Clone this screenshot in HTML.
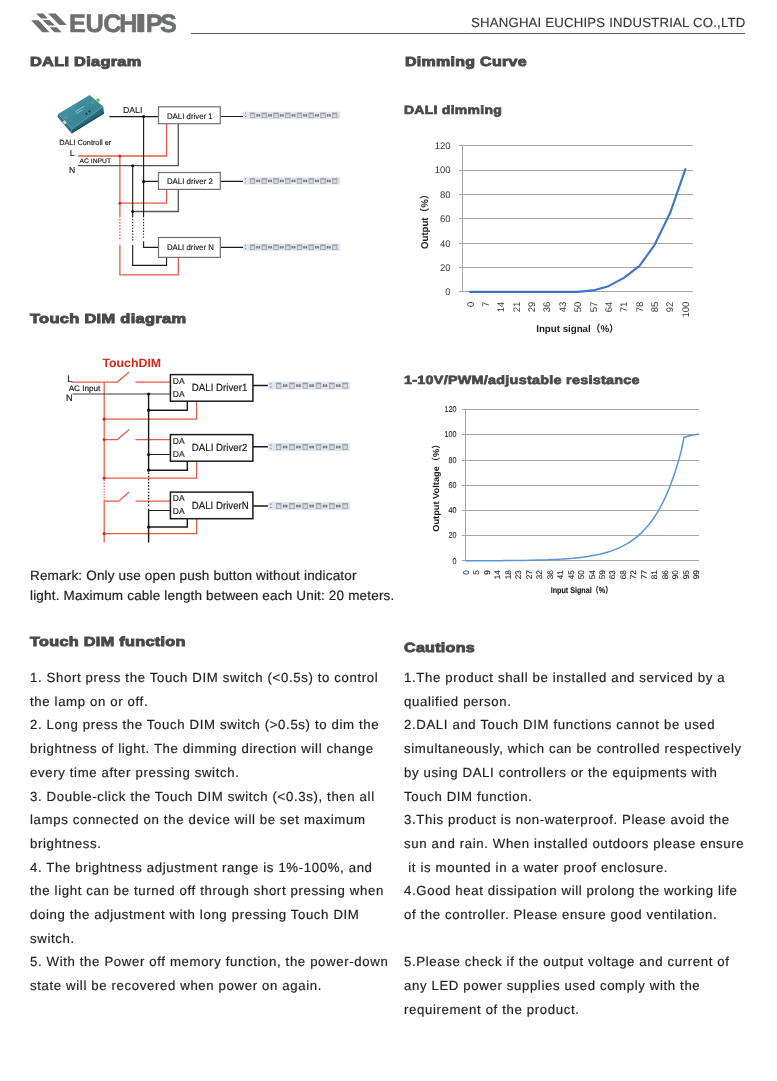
<!DOCTYPE html>
<html lang="en">
<head>
<meta charset="utf-8">
<title>EUCHIPS - DALI Diagram / Dimming Curve</title>
<style>
html,body{margin:0;padding:0;background:#fff;}
body{width:777px;height:1081px;position:relative;overflow:hidden;font-family:"Liberation Sans","Noto Sans CJK SC",sans-serif;color:#1f1f1f;text-rendering:geometricPrecision;}
.h{position:absolute;white-space:nowrap;font-weight:bold;font-size:13.2px;color:#4a4a4c;letter-spacing:0.25px;-webkit-text-stroke:0.9px #4a4a4c;line-height:18px;transform-origin:0 50%;will-change:transform;}
.h2{font-size:12px;-webkit-text-stroke:0.72px #4a4a4c;}
.p{position:absolute;white-space:nowrap;font-size:13.2px;line-height:23.7px;color:#222;letter-spacing:0.635px;will-change:transform;-webkit-text-stroke:0.18px #222;}
.co{position:absolute;right:32px;top:15.2px;font-size:13.2px;line-height:16px;color:#383838;letter-spacing:0.2px;-webkit-text-stroke:0.15px #383838;white-space:nowrap;will-change:transform;}
.rule{position:absolute;left:191px;top:33px;width:554px;height:1px;background:#555;}
svg{position:absolute;left:0;top:0;overflow:visible;will-change:transform;}
svg text{font-family:"Liberation Sans","Noto Sans CJK SC",sans-serif;text-rendering:geometricPrecision;}
</style>
</head>
<body>

<!-- ===== header ===== -->
<svg width="777" height="40" viewBox="0 0 777 40">
  <g fill="#6d6e71">
    <polygon points="48.1,13.4 55.7,13.4 66.8,25 59.4,25"/>
    <polygon points="36.2,13.4 43.3,13.4 47.8,18.5 41,18.5"/>
    <polygon points="42.4,19.9 49.2,19.9 55.2,25.6 48.1,25.6"/>
    <polygon points="49.8,27.3 56.6,27.3 61.7,32.3 54.3,32.3"/>
    <polygon points="31.1,20.3 38.5,20.3 49.5,32.3 42.4,32.3"/>
    <rect x="137.3" y="13.9" width="7" height="18.1"/>
    <text x="68.9 85.6 103.2 119.2 137.3 145.7 160" y="32" font-size="25.3" font-weight="bold" stroke="#6d6e71" stroke-width="0.55">EUCHIPS</text>
  </g>
</svg>
<div class="rule"></div>
<div class="co">SHANGHAI EUCHIPS INDUSTRIAL CO.,LTD</div>

<!-- ===== headings ===== -->
<div class="h" style="left:30.2px;top:53.1px;transform:scaleX(1.2362);">DALI Diagram</div>
<div class="h" style="left:405.0px;top:53.3px;transform:scaleX(1.2100);">Dimming Curve</div>
<div class="h h2" style="left:404.4px;top:101.1px;transform:scaleX(1.1625);">DALI dimming</div>
<div class="h" style="left:30.4px;top:310.4px;transform:scaleX(1.2447);">Touch DIM diagram</div>
<div class="h h2" style="left:403.8px;top:370.6px;transform:scaleX(1.1920);">1-10V/PWM/adjustable resistance</div>
<div class="h" style="left:30.4px;top:632.8px;transform:scaleX(1.2303);">Touch DIM function</div>
<div class="h" style="left:404.4px;top:639.2px;transform:scaleX(1.2163);">Cautions</div>

<!-- ===== DIAGRAM1 ===== -->
<svg width="777" height="300" viewBox="0 0 777 300">
  <defs>
    <g id="led">
      <rect x="0" y="0" width="97" height="7.2" fill="#dce5f3"/>
      <rect x="1.9" y="1.1" width="1" height="1" fill="#777"/>
      <rect x="1.9" y="4.4" width="1" height="1" fill="#777"/>
      <g id="ledu">
        <rect x="7" y="1.3" width="4.6" height="4.8" fill="#c8c8c8" stroke="#999" stroke-width="0.6"/>
        <rect x="7" y="1.2" width="4.6" height="1" fill="#9b9b9b"/>
        <rect x="8.1" y="2.9" width="2.4" height="2.4" fill="#dcdcdc"/>
        <rect x="13.2" y="2.5" width="3.7" height="2.3" fill="#a8a8a8"/>
        <rect x="13.2" y="2.5" width="1.1" height="2.3" fill="#707070"/>
        <rect x="15.8" y="2.5" width="1.1" height="2.3" fill="#707070"/>
      </g>
      <use href="#ledu" x="11.75"/><use href="#ledu" x="23.5"/><use href="#ledu" x="35.25"/>
      <use href="#ledu" x="47"/><use href="#ledu" x="58.75"/><use href="#ledu" x="70.5"/>
      <rect x="89.25" y="1.3" width="4.6" height="4.8" fill="#c8c8c8" stroke="#999" stroke-width="0.6"/>
      <rect x="89.25" y="1.2" width="4.6" height="1" fill="#9b9b9b"/>
      <rect x="90.35" y="2.9" width="2.4" height="2.4" fill="#dcdcdc"/>
    </g>
  </defs>
  <!-- controller -->
  <g>
    <linearGradient id="ctop" x1="0" y1="0" x2="1" y2="1">
      <stop offset="0" stop-color="#4a97a8"/><stop offset="0.55" stop-color="#3b8799"/><stop offset="1" stop-color="#347d8f"/>
    </linearGradient>
    <polygon points="57.4,116.8 58.1,113.9 72,128.8 71.6,133.4" fill="#2d7282"/>
    <polygon points="72,128.8 103.2,106.4 104.1,113.6 71.6,133.4" fill="#286a7b"/>
    <polygon points="71.7,131.6 104,111.6 104.1,113.6 71.6,133.4" fill="#1d5464"/>
    <polygon points="58.1,113.9 89.6,94.9 103.2,106.4 72,128.8" fill="url(#ctop)"/>
    <path d="M58.1,113.9 L72,128.8 L103.2,106.4" fill="none" stroke="#5aa3b3" stroke-width="0.5"/>
    <polygon points="96,99.6 98.3,98.2 100.4,100.1 98.2,101.9" fill="#62b83c"/>
    <polygon points="62.4,121.6 64.6,120.2 66.9,122.8 64.8,124.6" fill="#d9d4b2"/>
    <path d="M75,111.9 L84.2,106.3 M76.2,113.6 L82.6,109.8" stroke="#a8d6e0" stroke-width="0.7" fill="none"/>
    <path d="M91.2,102.3 l1.6,1.5 m-0.2,-2.6 l1.7,1.6 M64.5,117 l1.5,1.6 m0.3,-2.6 l1.5,1.6" stroke="#8cc3cf" stroke-width="0.6" fill="none"/>
    <circle cx="86.4" cy="113.7" r="0.9" fill="#1c2b3a"/><circle cx="89.4" cy="111.5" r="0.9" fill="#1c2b3a"/>
  </g>
  <g fill="none" stroke-width="1.1">
    <!-- red -->
    <path d="M78,156 H166.6 V123.7 M119.9,156 V217.5 M119.9,244.9 V274.9 H178.3 V257.4 M119.9,203.2 H166.6 V189.5" stroke="#e45c49" stroke-width="1.3"/>
    <path d="M119.9,219 V241" stroke="#e45c49" stroke-width="1.3" stroke-dasharray="1.6,1.5"/>
    <!-- gray N returns -->
    <path d="M78,165.6 H178.3 V123.7 M132.7,211.5 H178.3 V189.5" stroke="#555" stroke-width="1.3"/>
    <!-- black -->
    <path d="M109.4,116.6 H157.9 M143.6,116.6 V217.5 M143.6,241.2 V247.4 H158.1 M143.6,181.4 H157.9 M132.7,165.7 V217.5 M132.7,244.9 V265.4 H166.6 V257.4 M220.3,116.5 H243 M220.3,181.4 H243 M220.3,247.4 H243" stroke="#1a1a1a"/>
    <path d="M132.7,219 V241 M143.6,219 V238" stroke="#1a1a1a" stroke-dasharray="1.3,1.6"/>
    <!-- boxes -->
    <rect x="158.5" y="106.8" width="61.8" height="16.9" fill="#fff" stroke="#707070" stroke-width="1.2"/>
    <rect x="158.5" y="172.5" width="61.8" height="16.9" fill="#fff" stroke="#707070" stroke-width="1.2"/>
    <rect x="158.5" y="237.5" width="61.8" height="19.9" fill="#fff" stroke="#707070" stroke-width="1.2"/>
  </g>
  <circle cx="143.6" cy="116.6" r="1.5" fill="#111"/>
  <circle cx="143.6" cy="181.4" r="1.5" fill="#111"/>
  <circle cx="132.7" cy="165.7" r="1.5" fill="#111"/>
  <circle cx="132.7" cy="211.5" r="1.5" fill="#111"/>
  <circle cx="119.9" cy="156" r="1.5" fill="#d9261c"/>
  <circle cx="119.9" cy="203.2" r="1.5" fill="#d9261c"/>
  <use href="#led" x="243.2" y="111.7"/>
  <use href="#led" x="243.2" y="177.3"/>
  <use href="#led" x="243.2" y="243.6"/>
  <g fill="#1c1c1c" stroke="#1c1c1c" stroke-width="0.15">
    <text x="122.9" y="113.4" font-size="8.7" textLength="19.5" lengthAdjust="spacingAndGlyphs">DALI</text>
    <text x="166.9" y="119.4" font-size="8.1" textLength="45.8" lengthAdjust="spacingAndGlyphs">DALI driver 1</text>
    <text x="166.9" y="183.9" font-size="8.1" textLength="46" lengthAdjust="spacingAndGlyphs">DALI driver 2</text>
    <text x="166.9" y="250" font-size="8.1" textLength="47" lengthAdjust="spacingAndGlyphs">DALI driver N</text>
    <text x="59.2" y="144.5" font-size="7.5" textLength="52" lengthAdjust="spacingAndGlyphs">DALI Controll er</text>
    <text x="69.8" y="155.7" font-size="8.8">L</text>
    <text x="79.5" y="163.3" font-size="6.6" textLength="31.6" lengthAdjust="spacingAndGlyphs">AC INPUT</text>
    <text x="68.9" y="172.5" font-size="8.6">N</text>
  </g>
</svg>

<!-- ===== DIAGRAM2 ===== -->
<svg width="777" height="560" viewBox="0 0 777 560">
  <defs>
    <g id="led2">
      <rect x="0" y="0" width="82.2" height="8" fill="#dce5f3"/>
      <rect x="2.4" y="1.6" width="1.1" height="1.1" fill="#666"/>
      <rect x="2.4" y="4.8" width="1.1" height="1.1" fill="#666"/>
      <g id="ledu2">
        <rect x="8.4" y="1.4" width="4.7" height="5.3" fill="#c8c8c8" stroke="#999" stroke-width="0.6"/>
        <rect x="8.4" y="1.3" width="4.7" height="1.1" fill="#9b9b9b"/>
        <rect x="9.55" y="3.1" width="2.4" height="2.7" fill="#dcdcdc"/>
        <rect x="15.1" y="2.8" width="4.2" height="2.5" fill="#a8a8a8"/>
        <rect x="15.1" y="2.8" width="1.2" height="2.5" fill="#6c6c6c"/>
        <rect x="18.1" y="2.8" width="1.2" height="2.5" fill="#6c6c6c"/>
      </g>
      <use href="#ledu2" x="13.3"/><use href="#ledu2" x="26.6"/><use href="#ledu2" x="39.9"/><use href="#ledu2" x="53.2"/>
      <rect x="74.9" y="1.4" width="4.7" height="5.3" fill="#c8c8c8" stroke="#999" stroke-width="0.6"/>
      <rect x="74.9" y="1.3" width="4.7" height="1.1" fill="#9b9b9b"/>
      <rect x="76.05" y="3.1" width="2.4" height="2.7" fill="#dcdcdc"/>
    </g>
  </defs>
  <g fill="none" stroke-width="1.15">
    <!-- red -->
    <g stroke="#e45c49" stroke-width="1.25">
      <path d="M71.5,382 H117.4 L129.2,372 M135.4,382 H170.4"/>
      <path d="M104.2,439.5 H117.4 L129.2,429.5 M135.4,439.5 H170.4"/>
      <path d="M104.2,501.2 H118.6 L129.2,492 M135.4,501.2 H170.4"/>
      <path d="M104.2,382 V478.5 M104.2,499.5 V542.4"/>
      <path d="M104.2,480 V499" stroke-dasharray="1.3,1.5"/>
      <path d="M104.2,419.2 H196.6 V401.2 M104.2,478.2 H196.6 V461.2 M104.2,533.7 H196.6 V518.7"/>
    </g>
    <!-- black -->
    <g stroke="#1a1a1a">
      <path d="M72.5,394 H170.4" stroke="#3a3a3a"/>
      <path d="M148.6,394 V470.5 M148.6,508.8 V542.4" stroke-width="1.4"/>
      <path d="M148.6,472.5 V507" stroke-dasharray="1.5,1.7" stroke-width="1.3"/>
      <path d="M148.6,410.2 H187.3 V401.2 M148.6,470.2 H187.3 V461.2 M148.6,527 H187.3 V518.7" stroke-width="1.4"/>
      <path d="M148.6,454.5 H170.4 M148.6,510.5 H170.4"/>
      <path d="M252.9,385.5 H268 M252.9,446.8 H268 M252.9,505.9 H268" stroke-width="1.5"/>
      <rect x="170.4" y="374.6" width="82.5" height="26.6" fill="#fff" stroke-width="1.5"/>
      <rect x="170.4" y="434.6" width="82.5" height="26.6" fill="#fff" stroke-width="1.5"/>
      <rect x="170.4" y="492.1" width="82.5" height="26.6" fill="#fff" stroke-width="1.5"/>
    </g>
  </g>
  <g fill="#111">
    <circle cx="148.6" cy="394" r="1.6"/><circle cx="148.6" cy="410.2" r="1.6"/>
    <circle cx="148.6" cy="454.5" r="1.6"/><circle cx="148.6" cy="470.2" r="1.6"/>
    <circle cx="148.6" cy="527" r="1.6"/>
  </g>
  <g fill="#d9261c">
    <circle cx="104.2" cy="419.2" r="1.6"/><circle cx="104.2" cy="439.5" r="1.6"/>
    <circle cx="104.2" cy="478.2" r="1.6"/><circle cx="104.2" cy="533.7" r="1.6"/>
  </g>
  <use href="#led2" x="267.9" y="381.6"/>
  <use href="#led2" x="267.9" y="443"/>
  <use href="#led2" x="267.9" y="502"/>
  <text x="102.4" y="367" font-size="12.1" font-weight="bold" fill="#d9261c" textLength="58.7" lengthAdjust="spacingAndGlyphs">TouchDIM</text>
  <g fill="#1c1c1c" stroke="#1c1c1c" stroke-width="0.2">
    <text x="67.3" y="382" font-size="9.6">L</text>
    <text x="68.7" y="391.2" font-size="8" textLength="31.7" lengthAdjust="spacingAndGlyphs">AC Input</text>
    <text x="66" y="401.4" font-size="9.2">N</text>
    <g font-size="8.5" stroke-width="0.15" textLength="11">
      <text x="172.8" y="383.7">DA</text><text x="172.8" y="397">DA</text>
      <text x="172.8" y="443.7">DA</text><text x="172.8" y="457">DA</text>
      <text x="172.8" y="501.2">DA</text><text x="172.8" y="514.1">DA</text>
    </g>
    <g font-size="10.4">
      <text x="191.8" y="391.3" textLength="55.5" lengthAdjust="spacingAndGlyphs">DALI Driver1</text>
      <text x="191.8" y="451.3" textLength="55.5" lengthAdjust="spacingAndGlyphs">DALI Driver2</text>
      <text x="191.8" y="508.8" textLength="57" lengthAdjust="spacingAndGlyphs">DALI DriverN</text>
    </g>
  </g>
</svg>

<!-- ===== CHART1 ===== -->
<svg width="777" height="345" viewBox="0 0 777 345">
  <g stroke="#a6a6a6" stroke-width="1" fill="none" shape-rendering="crispEdges">
    <path d="M459.2,291.9 H693.1"/>
    <path d="M459.2,267.5 H693.1"/>
    <path d="M459.2,243.1 H693.1"/>
    <path d="M459.2,218.7 H693.1"/>
    <path d="M459.2,194.4 H693.1"/>
    <path d="M459.2,170.0 H693.1"/>
    <path d="M459.2,145.6 H693.1"/>
    <path d="M462.4,145.6 V291.9"/>
  </g>
  <g font-size="9.5" fill="#3a3a3a" text-anchor="end">
    <text x="450.6" y="295.3">0</text>
    <text x="450.6" y="270.9">20</text>
    <text x="450.6" y="246.5">40</text>
    <text x="450.6" y="222.1">60</text>
    <text x="450.6" y="197.8">80</text>
    <text x="450.6" y="173.4">100</text>
    <text x="450.6" y="149.0">120</text>
  </g>
  <g font-size="9.6" fill="#3a3a3a" text-anchor="end">
    <text transform="translate(473.5,301.6) rotate(-90)">0</text>
    <text transform="translate(488.9,301.6) rotate(-90)">7</text>
    <text transform="translate(504.2,301.6) rotate(-90)">14</text>
    <text transform="translate(519.6,301.6) rotate(-90)">21</text>
    <text transform="translate(535.0,301.6) rotate(-90)">29</text>
    <text transform="translate(550.4,301.6) rotate(-90)">36</text>
    <text transform="translate(565.8,301.6) rotate(-90)">43</text>
    <text transform="translate(581.1,301.6) rotate(-90)">50</text>
    <text transform="translate(596.5,301.6) rotate(-90)">57</text>
    <text transform="translate(611.9,301.6) rotate(-90)">64</text>
    <text transform="translate(627.3,301.6) rotate(-90)">71</text>
    <text transform="translate(642.7,301.6) rotate(-90)">78</text>
    <text transform="translate(658.0,301.6) rotate(-90)">85</text>
    <text transform="translate(673.4,301.6) rotate(-90)">92</text>
    <text transform="translate(688.8,301.6) rotate(-90)">100</text>
  </g>
  <path d="M470.1,291.9 L485.5,291.9 L500.8,291.9 L516.2,291.9 L531.6,291.9 L547.0,291.9 L562.4,291.9 L577.8,291.9 L593.1,290.4 L608.5,286.2 L623.9,277.9 L639.3,266.2 L654.6,244.8 L670.0,213.3 L685.4,169.2" fill="none" stroke="#3f74c2" stroke-width="2.1" stroke-linejoin="round" stroke-linecap="round"/>
  <text transform="translate(427.8,249) rotate(-90)" font-size="9.8" font-weight="bold" fill="#1e1e1e" textLength="59.4" lengthAdjust="spacingAndGlyphs">Output（%）</text>
  <text x="536.2" y="331.5" font-size="9.8" font-weight="bold" fill="#1e1e1e" textLength="82.6" lengthAdjust="spacingAndGlyphs">Input signal（%）</text>
</svg>
<!-- ===== CHART2 ===== -->
<svg width="777" height="610" viewBox="0 0 777 610">
  <g stroke="#a6a6a6" stroke-width="1" fill="none" shape-rendering="crispEdges">
    <path d="M462.4,560.9 H698.6"/>
    <path d="M462.4,535.7 H698.6"/>
    <path d="M462.4,510.4 H698.6"/>
    <path d="M462.4,485.2 H698.6"/>
    <path d="M462.4,460.0 H698.6"/>
    <path d="M462.4,434.7 H698.6"/>
    <path d="M462.4,409.5 H698.6"/>
    <path d="M465.4,409.5 V560.9"/>
  </g>
  <g font-size="8.5" fill="#262626" stroke="#262626" stroke-width="0.12" text-anchor="end">
    <text x="456.4" y="563.5" textLength="4" lengthAdjust="spacingAndGlyphs">0</text>
    <text x="456.4" y="538.3" textLength="8" lengthAdjust="spacingAndGlyphs">20</text>
    <text x="456.4" y="513.0" textLength="8" lengthAdjust="spacingAndGlyphs">40</text>
    <text x="456.4" y="487.8" textLength="8" lengthAdjust="spacingAndGlyphs">60</text>
    <text x="456.4" y="462.6" textLength="8" lengthAdjust="spacingAndGlyphs">80</text>
    <text x="456.4" y="437.3" textLength="12" lengthAdjust="spacingAndGlyphs">100</text>
    <text x="456.4" y="412.1" textLength="12" lengthAdjust="spacingAndGlyphs">120</text>
  </g>
  <g font-size="8.2" fill="#262626" stroke="#262626" stroke-width="0.12" text-anchor="end">
    <text transform="translate(468.8,570.2) rotate(-90)">0</text>
    <text transform="translate(479.2,570.2) rotate(-90)">5</text>
    <text transform="translate(489.7,570.2) rotate(-90)">9</text>
    <text transform="translate(500.2,570.2) rotate(-90)">14</text>
    <text transform="translate(510.7,570.2) rotate(-90)">18</text>
    <text transform="translate(521.1,570.2) rotate(-90)">23</text>
    <text transform="translate(531.6,570.2) rotate(-90)">27</text>
    <text transform="translate(542.1,570.2) rotate(-90)">32</text>
    <text transform="translate(552.6,570.2) rotate(-90)">36</text>
    <text transform="translate(563.0,570.2) rotate(-90)">41</text>
    <text transform="translate(573.5,570.2) rotate(-90)">45</text>
    <text transform="translate(584.0,570.2) rotate(-90)">50</text>
    <text transform="translate(594.5,570.2) rotate(-90)">54</text>
    <text transform="translate(604.9,570.2) rotate(-90)">59</text>
    <text transform="translate(615.4,570.2) rotate(-90)">63</text>
    <text transform="translate(625.9,570.2) rotate(-90)">68</text>
    <text transform="translate(636.4,570.2) rotate(-90)">72</text>
    <text transform="translate(646.8,570.2) rotate(-90)">77</text>
    <text transform="translate(657.3,570.2) rotate(-90)">81</text>
    <text transform="translate(667.8,570.2) rotate(-90)">86</text>
    <text transform="translate(678.3,570.2) rotate(-90)">90</text>
    <text transform="translate(688.7,570.2) rotate(-90)">95</text>
    <text transform="translate(699.2,570.2) rotate(-90)">99</text>
  </g>
  <path d="M465.9,560.8 L468.6,560.8 L471.3,560.8 L474.1,560.8 L476.8,560.8 L479.5,560.8 L482.3,560.8 L485.0,560.8 L487.7,560.8 L490.5,560.7 L493.2,560.7 L495.9,560.7 L498.6,560.7 L501.4,560.7 L504.1,560.6 L506.8,560.6 L509.6,560.6 L512.3,560.6 L515.0,560.5 L517.8,560.5 L520.5,560.5 L523.2,560.4 L526.0,560.4 L528.7,560.3 L531.4,560.3 L534.2,560.2 L536.9,560.1 L539.6,560.0 L542.4,560.0 L545.1,559.9 L547.8,559.8 L550.6,559.6 L553.3,559.5 L556.0,559.4 L558.8,559.2 L561.5,559.1 L564.2,558.9 L567.0,558.7 L569.7,558.5 L572.4,558.3 L575.2,558.0 L577.9,557.7 L580.6,557.4 L583.4,557.1 L586.1,556.7 L588.8,556.3 L591.6,555.8 L594.3,555.3 L597.0,554.8 L599.8,554.2 L602.5,553.5 L605.2,552.8 L608.0,552.0 L610.7,551.1 L613.4,550.1 L616.2,549.1 L618.9,547.9 L621.6,546.6 L624.4,545.2 L627.1,543.7 L629.8,542.0 L632.6,540.2 L635.3,538.1 L638.0,535.9 L640.8,533.4 L643.5,530.7 L646.2,527.8 L649.0,524.5 L651.7,521.0 L654.4,517.0 L657.2,512.7 L659.9,508.0 L662.6,502.8 L665.4,497.1 L668.1,490.9 L670.8,484.0 L673.5,476.5 L676.3,468.2 L679.0,459.1 L681.7,449.1 L683.9,437.5 L691.1,435.3 L698.6,434.2" fill="none" stroke="#5b95d6" stroke-width="1.5" stroke-linejoin="round" stroke-linecap="round"/>
  <text transform="translate(439.1,531.8) rotate(-90)" font-size="8.6" font-weight="bold" fill="#161616" textLength="92.4" lengthAdjust="spacingAndGlyphs">Output Voltage（%）</text>
  <text x="550.7" y="592.9" font-size="8.4" font-weight="bold" fill="#1c1c1c" stroke="#1c1c1c" stroke-width="0.15" textLength="61.6" lengthAdjust="spacingAndGlyphs">Input Signal（%）</text>
</svg>

<!-- ===== remark ===== -->
<div class="p" style="left:30px;top:566.2px;line-height:20.1px;font-size:13.5px;letter-spacing:0.18px;">Remark: Only use open push button without indicator<br>light. Maximum cable length between each Unit: 20 meters.</div>

<!-- ===== Touch DIM function ===== -->
<div class="p" style="left:30px;top:665.7px;letter-spacing:0.64px;">1. Short press the Touch DIM switch (&lt;0.5s) to control<br>the lamp on or off.<br>2. Long press the Touch DIM switch (&gt;0.5s) to dim the<br>brightness of light. The dimming direction will change<br>every time after pressing switch.<br>3. Double-click the Touch DIM switch (&lt;0.3s), then all<br>lamps connected on the device will be set maximum<br>brightness.<br>4. The brightness adjustment range is 1%-100%, and<br>the light can be turned off through short pressing when<br>doing the adjustment with long pressing Touch DIM<br>switch.<br>5. With the Power off memory function, the power-down<br>state will be recovered when power on again.</div>

<!-- ===== Cautions ===== -->
<div class="p" style="left:404px;top:665.7px;">1.The product shall be installed and serviced by a<br>qualified person.<br>2.DALI and Touch DIM functions cannot be used<br>simultaneously, which can be controlled respectively<br>by using DALI controllers or the equipments with<br>Touch DIM function.<br>3.This product is non-waterproof. Please avoid the<br>sun and rain. When installed outdoors please ensure<br>&nbsp;it is mounted in a water proof enclosure.<br>4.Good heat dissipation will prolong the working life<br>of the controller. Please ensure good ventilation.<br><br>5.Please check if the output voltage and current of<br>any LED power supplies used comply with the<br>requirement of the product.</div>

</body>
</html>
